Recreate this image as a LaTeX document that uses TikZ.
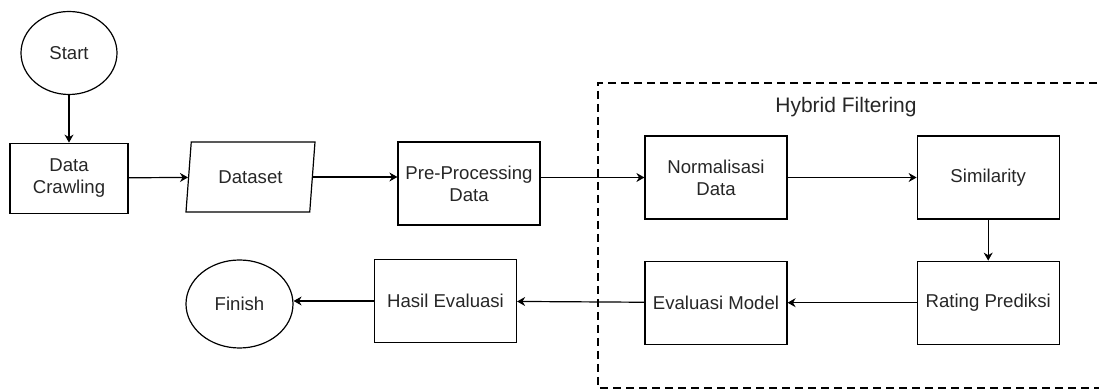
\documentclass[tikz,border=0pt]{standalone}
\usepackage{fontspec}
\setmainfont{Liberation Sans}
\usepackage{tikz}
\usetikzlibrary{arrows.meta, positioning, shapes.geometric, calc}
\tikzset{%
	term/.style={draw, ellipse, minimum width=48pt, minimum height=41.5pt, inner sep=0mm},
	box/.style={draw, rectangle, minimum width=59pt, minimum height=35pt, inner sep=0mm, align=center},
	wide/.style={minimum width=71pt, minimum height=41.5pt},
	io/.style={draw, trapezium, trapezium left angle=78.7, trapezium right angle=101.3,%
		trapezium stretches body, minimum width=64.5pt, minimum height=35pt, inner xsep=0pt},
	flow/.style={-{Stealth[length=4pt, width=4.5pt]}},
	frame/.style={line width=1pt, dash pattern=on 4pt off 2.5pt}
}

\begin{document}
\begin{tikzpicture}[x=0.5pt, y=-0.5pt, line width=0.6pt,
	font=\fontsize{9.3}{11}\selectfont, text=black!85]
	\useasboundingbox (0,0) rectangle (1099,389);

	\node[term] (start) at (69,53) {Start};
	\node[box, below=23.75pt of start] (crawl) {Data\\Crawling};
	\node[io] (dataset) at (250.5,177) {Dataset};
	\node[box, wide] (prep) at (469,183.5) {Pre-Processing\\Data};
	\node[box, wide] (norm) at (716,177.5) {Normalisasi\\Data};
	\node[box, wide, right=64.5pt of norm] (sim) {Similarity};
	\node[box, wide, below=20.5pt of sim] (rating) {Rating Prediksi};
	\node[box, wide] (evalm) at (norm |- rating) {Evaluasi Model};
	\node[box, wide] (hasil) at (445.5,301) {Hasil Evaluasi};
	\node[term, minimum width=53.5pt, minimum height=44pt] (finish) at (239.5,304) {Finish};
	\node[font=\fontsize{10.5}{12}\selectfont] (hybrid) at (846,107) {Hybrid Filtering};

	\draw[frame] (1110,83) -| (598,388) -- (1110,388);

	\draw[flow] (start) to (crawl);
	\draw[flow] (crawl) to (dataset);
	\draw[flow] (dataset.east) to (dataset.east -| prep.west);
	\draw[flow] (prep.east |- norm.west) to (norm.west);
	\draw[flow] (norm) to (sim);
	\draw[flow] (sim) to (rating);
	\draw[flow] (rating) to (evalm);
	\draw[flow] (evalm) to (hasil);
	\draw[flow] (hasil.west) to (hasil.west -| finish.east);
\end{tikzpicture}
\end{document}
